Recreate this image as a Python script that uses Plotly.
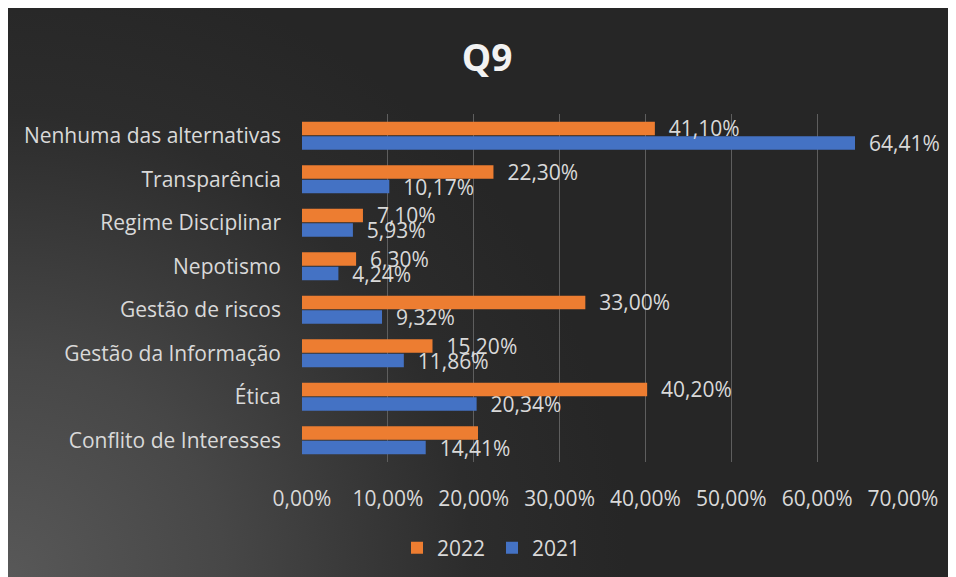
import base64
import plotly.graph_objects as go

categories = ["Conflito de Interesses", "Ética", "Gestão da Informação", "Gestão de riscos",
              "Nepotismo", "Regime Disciplinar", "Transparência", "Nenhuma das alternativas"]
values_2022 = [0.205, 0.402, 0.152, 0.330, 0.063, 0.071, 0.223, 0.411]
values_2021 = [0.1441, 0.2034, 0.1186, 0.0932, 0.0424, 0.0593, 0.1017, 0.6441]
show_label_2022 = [False, True, True, True, True, True, True, True]
show_label_2021 = [True, True, True, True, True, True, True, True]
x_ticks = [0, 0.1, 0.2, 0.3, 0.4, 0.5, 0.6, 0.7]

PAD = "\u00a0\u00a0"


def fmt(v, show):
    return (PAD + f"{v * 100:.2f}".replace(".", ",") + "%") if show else ""


TXT = "#d9d9d9"
FONT = "Open Sans"
FS = 21

fig = go.Figure()
fig.add_trace(go.Bar(
    y=categories, x=values_2021, orientation="h", name="2021",
    marker=dict(color="#4472C4", line=dict(width=0)),
    text=[fmt(v, s) for v, s in zip(values_2021, show_label_2021)],
    textposition="outside", textfont=dict(color=TXT, size=FS, family=FONT),
    constraintext="none", cliponaxis=False, hoverinfo="x+y",
))
fig.add_trace(go.Bar(
    y=categories, x=values_2022, orientation="h", name="2022",
    marker=dict(color="#ED7D31", line=dict(width=0)),
    text=[fmt(v, s) for v, s in zip(values_2022, show_label_2022)],
    textposition="outside", textfont=dict(color=TXT, size=FS, family=FONT),
    constraintext="none", cliponaxis=False, hoverinfo="x+y",
))

# figure sits at page offset (8, 8) because of the body margin
FW, FH = 964, 577
svg = f'''<svg xmlns="http://www.w3.org/2000/svg" width="{FW}" height="{FH}" viewBox="0 0 {FW} {FH}">
<defs><radialGradient id="g" gradientUnits="userSpaceOnUse" cx="0" cy="569" r="620">
<stop offset="0" stop-color="#585858"/><stop offset="0.35" stop-color="#474747"/>
<stop offset="0.75" stop-color="#2c2c2c"/><stop offset="1" stop-color="#262626"/></radialGradient></defs>
<rect width="{FW}" height="{FH}" fill="#262626"/>
<rect width="{FW}" height="{FH}" fill="url(#g)"/></svg>'''
src = "data:image/svg+xml;base64," + base64.b64encode(svg.encode()).decode()

L, T = 294, 106
R, B = FW - 895, FH - 454
pw, ph = FW - L - R, FH - T - B

fig.update_layout(
    width=FW, height=FH,
    margin=dict(l=L, r=R, t=T, b=B, autoexpand=False),
    paper_bgcolor="#262626", plot_bgcolor="rgba(0,0,0,0)",
    separators=",.",
    font=dict(family=FONT, color=TXT, size=FS),
    barmode="group", bargap=0.33, bargroupgap=0.07,
    title=dict(text="<b>Q9</b>", x=479 / FW, xanchor="center", xref="container",
               y=1 - 50 / FH, yanchor="middle", yref="container",
               font=dict(size=37, color="#f2f2f2", family=FONT)),
    xaxis=dict(range=[0, 0.7], tickvals=x_ticks, tickformat=".2%",
               showgrid=True, gridcolor="#5e5e5e", gridwidth=1.3,
               zeroline=False, showline=False, ticks="", ticklabelstandoff=22,
               tickfont=dict(size=FS, color=TXT, family=FONT), fixedrange=True),
    yaxis=dict(categoryorder="array", categoryarray=categories, showgrid=False,
               zeroline=False, showline=False, ticks="", ticklabelstandoff=20,
               tickfont=dict(size=FS, color=TXT, family=FONT), fixedrange=True),
    legend=dict(orientation="h", x=(484 - L) / pw, xanchor="center",
                y=(454 - 540) / ph, yanchor="middle", traceorder="reversed",
                font=dict(size=FS, color=TXT, family=FONT), bgcolor="rgba(0,0,0,0)",
                itemwidth=30, entrywidth=50, entrywidthmode="pixels"),
    images=[dict(source=src, xref="paper", yref="paper",
                 x=-L / pw, y=(FH - B) / ph, sizex=FW / pw, sizey=FH / ph,
                 xanchor="left", yanchor="top", sizing="stretch", layer="below")],
    showlegend=True,
)

fig.write_html("out.html", config={"displayModeBar": False})
